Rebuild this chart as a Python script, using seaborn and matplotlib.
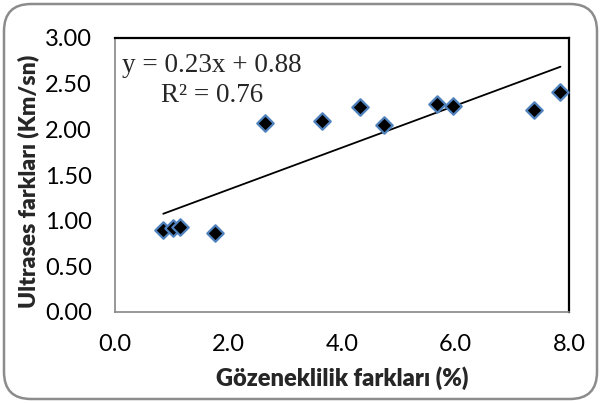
import matplotlib
matplotlib.use("Agg")
import matplotlib.pyplot as plt
import seaborn as sns
import numpy as np
import pandas as pd
from matplotlib.patches import FancyBboxPatch

# Data
porosity_diff = [0.85, 1.02, 1.14, 1.76, 2.64, 3.64, 4.31, 4.74, 5.67, 5.95, 7.38, 7.85]
ultrasonic_diff = [0.90, 0.92, 0.93, 0.87, 2.07, 2.09, 2.24, 2.05, 2.28, 2.26, 2.21, 2.41]
slope = 0.23
intercept = 0.88
r_squared = 0.76
x_ticks = [0.0, 2.0, 4.0, 6.0, 8.0]
y_ticks = [0.0, 0.5, 1.0, 1.5, 2.0, 2.5, 3.0]
x_label = "Gözeneklilik farkları (%)"
y_label = "Ultrases farkları (Km/sn)"

sns.set_style("white")
plt.rcParams['font.family'] = ['Lato', 'DejaVu Sans']

df = pd.DataFrame({"x": porosity_diff, "y": ultrasonic_diff})

fig = plt.figure(figsize=(6.01, 4.03), dpi=100)
ax = fig.add_axes([115/601, 1-312/403, (569-115)/601, (312-38)/403])

# trend line
xs = np.array([min(porosity_diff), max(porosity_diff)])
trend = pd.DataFrame({"x": xs, "y": slope*xs + intercept})
sns.lineplot(data=trend, x="x", y="y", ax=ax, color="black", linewidth=1.3)

sns.scatterplot(data=df, x="x", y="y", ax=ax, marker="D", s=70,
                color="black", edgecolor="#4F81BD", linewidth=1.6, zorder=3)

ax.set_xlim(0, 8)
ax.set_ylim(0, 3)
ax.set_xticks(x_ticks)
ax.set_yticks(y_ticks)
ax.set_xticklabels([f"{t:.1f}" for t in x_ticks])
ax.set_yticklabels([f"{t:.2f}" for t in y_ticks])
ax.tick_params(axis="both", direction="out", length=5.8, width=1, color="#868686",
               labelsize=17, colors="black")
ax.tick_params(axis="x", pad=10)
ax.tick_params(axis="y", pad=11)
for s in ["left", "bottom"]:
    ax.spines[s].set_color("#868686")
    ax.spines[s].set_linewidth(1.2)
for s in ["top", "right"]:
    ax.spines[s].set_color("black")
    ax.spines[s].set_linewidth(1.6)

ax.set_xlabel(x_label, fontsize=17, fontweight="heavy")
ax.set_ylabel(y_label, fontsize=16.5, fontweight="heavy")
ax.xaxis.set_label_coords(0.5, (312-366)/274)
ax.yaxis.set_label_coords((39-115)/454, (312-181)/274)

ax.text(1.70, 2.70, f"y = {slope:.2f}x + {intercept:.2f}", fontsize=19.5,
        family=["Liberation Serif"], ha="center", va="center")
ax.text(1.71, 2.37, f"R² = {r_squared:.2f}", fontsize=19.5,
        family=["Liberation Serif"], ha="center", va="center")

border = FancyBboxPatch((4/601, 4/403), 593/601, 395/403,
                        boxstyle="round,pad=0,rounding_size=0.045",
                        transform=fig.transFigure, facecolor="none",
                        edgecolor="#8c8c8c", linewidth=1.8, mutation_aspect=601/403)
fig.patches.append(border)

fig.savefig("out.png", dpi=100)
